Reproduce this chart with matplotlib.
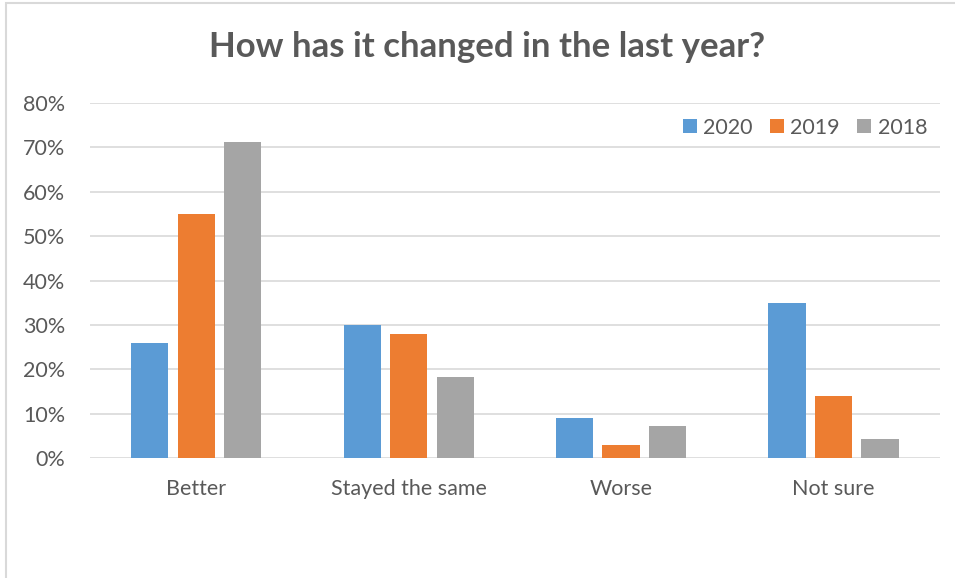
import matplotlib
matplotlib.use("Agg")
import matplotlib.pyplot as plt
import numpy as np
from matplotlib.patches import Rectangle

categories = ["Better", "Stayed the same", "Worse", "Not sure"]
series_names = ["2020", "2019", "2018"]
v2020 = [26, 30, 9, 35]
v2019 = [55, 28, 3, 14]
v2018 = [71.2, 18.2, 7.2, 4.2]
colors = ["#5B9BD5", "#ED7D31", "#A5A5A5"]
text_color = "#595959"

plt.rcParams['font.family'] = ['Lato', 'DejaVu Sans']

fig = plt.figure(figsize=(9.55, 5.78), dpi=100)
ax = fig.add_axes([0.0942, 0.2076, 0.8898, 0.6142])

x = np.arange(len(categories))
step = 0.219
width = 0.175
for i, (vals, name, c) in enumerate(zip([v2020, v2019, v2018], series_names, colors)):
    ax.bar(x + (i - 1) * step, vals, width=width, color=c, label=name, zorder=3)

ax.set_xlim(-0.5, 3.5)
ax.set_ylim(0, 80)
ax.set_yticks(range(0, 81, 10))
ax.set_yticklabels([f"{t}%" for t in range(0, 81, 10)])
ax.set_xticks(x)
ax.set_xticklabels(categories)
ax.tick_params(axis='both', length=0, colors=text_color, labelsize=15.5)
ax.tick_params(axis='y', pad=18)
ax.tick_params(axis='x', pad=15)
ax.grid(axis='y', color="#D9D9D9", linewidth=1.2, zorder=0)
for s in ax.spines.values():
    s.set_visible(False)

fig.text(0.51, 0.918, "How has it changed in the last year?", ha='center', va='center',
         fontsize=25, fontweight='bold', color=text_color)

leg = ax.legend(loc='upper right', bbox_to_anchor=(1.008, 1.013), ncol=3, frameon=False,
                fontsize=15.5, handlelength=0.65, handleheight=0.65, handletextpad=0.3,
                columnspacing=0.8, labelcolor=text_color)

fig.patches.append(Rectangle((0.006, -0.1), 1.2, 1.095, transform=fig.transFigure,
                             fill=False, edgecolor="#D9D9D9", linewidth=1.5))

fig.savefig("out.png", dpi=100)
